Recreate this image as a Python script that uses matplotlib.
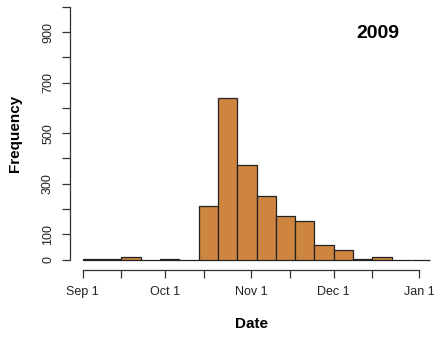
import matplotlib
matplotlib.use("Agg")
import matplotlib.pyplot as plt
import matplotlib.dates as mdates
import numpy as np
import datetime as dt

plt.rcParams['font.family'] = ['Liberation Sans', 'DejaVu Sans']

# data: weekly bins starting Sep 1, 2009
bin_starts = ["2009-09-01", "2009-09-08", "2009-09-15", "2009-09-22", "2009-09-29",
              "2009-10-06", "2009-10-13", "2009-10-20", "2009-10-27", "2009-11-03",
              "2009-11-10", "2009-11-17", "2009-11-24", "2009-12-01", "2009-12-08",
              "2009-12-15", "2009-12-22", "2009-12-29"]
counts = [3, 3, 10, 0, 3, 0, 211, 638, 373, 251, 172, 152, 60, 39, 3, 10, 0, 0]
bin_width_days = 7
x_tick_dates = ["2009-09-01", "2009-09-15", "2009-10-01", "2009-10-15", "2009-11-01",
                "2009-11-15", "2009-12-01", "2009-12-15", "2010-01-01"]
x_tick_labels = ["Sep 1", "", "Oct 1", "", "Nov 1", "", "Dec 1", "", "Jan 1"]
y_ticks = list(range(0, 1001, 100))
y_tick_labels = ["0", "100", "", "300", "", "500", "", "700", "", "900", ""]
title_text = "2009"

W, H = 435, 339
fig = plt.figure(figsize=(W / 100, H / 100), dpi=100)
ax = fig.add_axes([70 / W, (H - 269.8) / H, (W - 70) / W, 269.8 / H])

starts = [mdates.date2num(dt.datetime.strptime(s, "%Y-%m-%d")) for s in bin_starts]
ax.bar(starts, counts, width=bin_width_days, align='edge', color='#CD853F',
       edgecolor='#222222', linewidth=0.9)

sep1 = mdates.date2num(dt.datetime(2009, 9, 1))
ax.set_xlim(sep1 - 4.6, sep1 + 127.7)
ax.set_ylim(-40, 1026.5)

xt = [mdates.date2num(dt.datetime.strptime(s, "%Y-%m-%d")) for s in x_tick_dates]
ax.set_xticks(xt)
ax.set_xticklabels(x_tick_labels)
ax.set_yticks(y_ticks)
ax.set_yticklabels(y_tick_labels, rotation=90, va='center')

for s in ['top', 'right']:
    ax.spines[s].set_visible(False)
ax.spines['left'].set_bounds(0, 1000)
ax.spines['bottom'].set_bounds(xt[0], xt[-1])
for s in ['left', 'bottom']:
    ax.spines[s].set_color('#333333')
    ax.spines[s].set_linewidth(0.9)

ax.tick_params(axis='both', direction='out', length=6, width=0.9, color='#333333',
               labelsize=9, labelcolor='#222222')
ax.tick_params(axis='x', pad=5.5)
ax.tick_params(axis='y', pad=5.5)

fig.text(15.5 / W, 1 - 133 / H, "Frequency", rotation=90, ha='center', va='center',
         fontsize=11, fontweight='bold')
fig.text(252 / W, 1 - 324 / H, "Date", ha='center', va='center',
         fontsize=11, fontweight='bold')
ax.text(0.8425, 0.877, title_text, transform=ax.transAxes, ha='center', va='center',
        fontsize=14, fontweight='bold')

fig.savefig("out.png", dpi=100)
